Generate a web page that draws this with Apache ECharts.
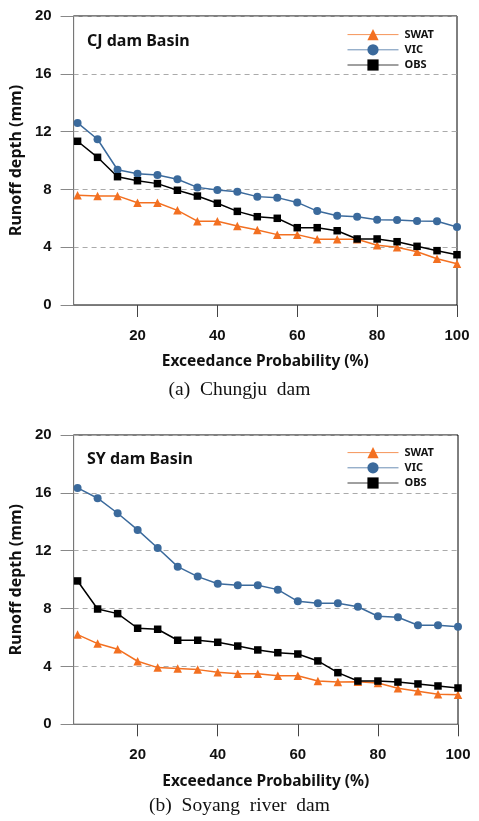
<!DOCTYPE html>
<html>
<head>
<meta charset="utf-8">
<script src="https://cdn.jsdelivr.net/npm/echarts@6/dist/echarts.min.js"></script>
<style>
html,body{margin:0;padding:0;background:#fff;}
#c{width:479px;height:821px;}
</style>
</head>
<body>
<div id="c"></div>
<script>
// Exceedance probability (%)
const probs = [5,10,15,20,25,30,35,40,45,50,55,60,65,70,75,80,85,90,95,100];
const xTicks = [20,40,60,80,100];
const yTicks = [0,4,8,12,16,20];
const seriesNames = ['SWAT','VIC','OBS'];
// (a) Chungju dam
const cjSwat = [7.6,7.55,7.55,7.08,7.08,6.55,5.8,5.8,5.47,5.19,4.87,4.87,4.55,4.55,4.55,4.13,3.99,3.69,3.2,2.86];
const cjVic  = [12.6,11.47,9.36,9.09,9.0,8.7,8.14,7.96,7.84,7.5,7.43,7.1,6.5,6.18,6.11,5.9,5.88,5.81,5.79,5.4];
const cjObs  = [11.33,10.22,8.88,8.6,8.4,7.94,7.54,7.04,6.48,6.11,6.0,5.35,5.35,5.14,4.57,4.57,4.38,4.06,3.76,3.48];
// (b) Soyang river dam
const sySwat = [6.2,5.58,5.19,4.36,3.92,3.85,3.78,3.6,3.5,3.5,3.35,3.35,3.0,2.92,2.95,2.85,2.49,2.28,2.07,2.05];
const syVic  = [16.34,15.63,14.59,13.44,12.19,10.9,10.21,9.72,9.61,9.61,9.31,8.5,8.37,8.37,8.13,7.47,7.4,6.85,6.85,6.75];
const syObs  = [9.91,7.97,7.65,6.64,6.57,5.81,5.81,5.67,5.41,5.14,4.95,4.86,4.38,3.57,2.99,2.99,2.92,2.79,2.65,2.51];

const colors = {SWAT:'#f37021', VIC:'#3b6a9c', OBS:'#000000'};
const symbols = {SWAT:'triangle', VIC:'circle', OBS:'rect'};
const sizes = {SWAT:8.5, VIC:8, OBS:7.5};

const chart = echarts.init(document.getElementById('c'));
const sans = 'Noto Sans, Liberation Sans, sans-serif';
const arial = 'Liberation Sans, Arial, sans-serif';

function pairs(arr){ return probs.map((p,i)=>[p, arr[i]]); }

const grids = [
  {left:72, right:22, top:16, height:289},
  {left:72.5, right:21, top:435, height:289.3}
];

function xAxis(gi){
  return {
    type:'value', gridIndex:gi, min:4, max:100,
    name:'Exceedance Probability (%)', nameLocation:'middle', nameGap:49,
    nameTextStyle:{fontFamily:sans, fontWeight:'bold', fontSize:15.5, color:'#111'},
    axisLine:{show:true, lineStyle:{color:'#777', width:1}},
    axisTick:{show:true, length:12, inside:false, customValues:xTicks, lineStyle:{color:'#444'}},
    axisLabel:{customValues:xTicks, margin:23, fontFamily:arial, fontWeight:'bold', fontSize:15, color:'#111'},
    splitLine:{show:false}
  };
}
function yAxis(gi){
  return {
    type:'value', gridIndex:gi, min:0, max:20, interval:4,
    name:'Runoff depth (mm)', nameLocation:'middle', nameGap:49,
    nameTextStyle:{fontFamily:sans, fontWeight:'bold', fontSize:16, color:'#111'},
    axisLine:{show:true, lineStyle:{color:'#777', width:1}},
    axisTick:{show:true, length:13, inside:false, lineStyle:{color:'#888'}},
    axisLabel:{margin:22, fontFamily:arial, fontWeight:'bold', fontSize:15, color:'#111'},
    splitLine:{show:true, lineStyle:{color:'#aaa', type:[5,4], width:1}}
  };
}
function series(gi, name, arr){
  return {
    name:name, type:'line', xAxisIndex:gi, yAxisIndex:gi,
    data:pairs(arr), symbol:symbols[name], symbolSize:sizes[name],
    lineStyle:{color:colors[name], width:1.5},
    itemStyle:{color:colors[name]},
    animation:false, z:5
  };
}
function legend(gi, top){
  return {
    show:true, orient:'vertical', left:342, top:top, itemWidth:51, itemHeight:14, itemGap:4,
    data:seriesNames.map(n=>({name:n})),
    lineStyle:{width:1, opacity:0.75},
    textStyle:{fontFamily:sans, fontWeight:'bold', fontSize:11, color:'#111', padding:[0,0,0,1]},
    selectedMode:false
  };
}

const option = {
  backgroundColor:'#fff',
  animation:false,
  grid: grids.map(g=>Object.assign({show:true, borderColor:'#000', borderWidth:1, backgroundColor:'transparent'}, g)),
  xAxis:[xAxis(0), xAxis(1)],
  yAxis:[yAxis(0), yAxis(1)],
  legend:[legend(0, 24), legend(1, 442)],
  series:[
    series(0,'SWAT',cjSwat), series(0,'VIC',cjVic), series(0,'OBS',cjObs),
    series(1,'SWAT',sySwat), series(1,'VIC',syVic), series(1,'OBS',syObs)
  ],
  graphic:[
    {type:'text', left:87, top:33, style:{text:'CJ dam Basin', fontFamily:sans, fontWeight:'bold', fontSize:16, fill:'#111'}},
    {type:'text', left:87, top:451, style:{text:'SY dam Basin', fontFamily:sans, fontWeight:'bold', fontSize:16, fill:'#111'}},
    {type:'text', left:'center', top:380, style:{text:'(a)  Chungju  dam', fontFamily:'Liberation Serif, serif', fontSize:19.5, fill:'#111'}},
    {type:'text', left:'center', top:796, style:{text:'(b)  Soyang  river  dam', fontFamily:'Liberation Serif, serif', fontSize:19.5, fill:'#111'}}
  ]
};
chart.setOption(option);
</script>
</body>
</html>
